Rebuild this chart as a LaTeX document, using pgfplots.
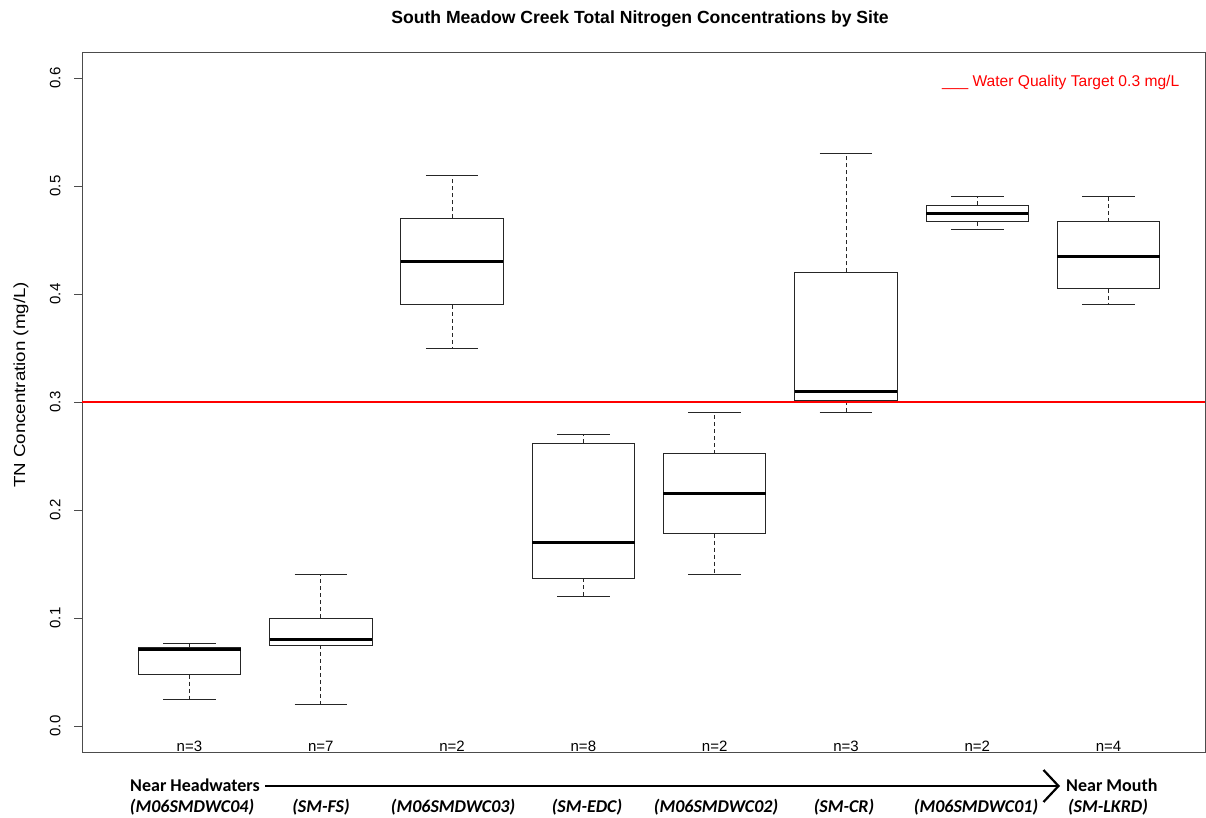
\documentclass[border=0pt]{standalone}
\usepackage{fontspec}
\setmainfont{Liberation Sans}
\newfontfamily\calibri{Carlito}
\usepackage{graphicx}
\usepackage{pgfplots}
\pgfplotsset{compat=1.18}
\usepgfplotslibrary{statistics}
\usetikzlibrary{arrows.meta}
\pgfplotsset{
  boxplot/draw/whisker/.code 2 args={%
    \draw[black!85, line width=0.9pt, dash pattern=on 4pt off 3pt] (boxplot cs:#1) -- (boxplot cs:#2);
    \draw[black!85, line width=0.9pt, solid] (boxplot whisker cs:#2,0) -- (boxplot whisker cs:#2,1);
  },
}
\begin{document}
\begin{tikzpicture}
\path[use as bounding box] (0pt,0pt) rectangle (1206pt,818pt);
\begin{axis}[
  at={(82pt,66pt)}, anchor=south west,
  scale only axis, width=1123.5pt, height=700pt,
  xmin=0.1816, xmax=8.738, ymin=-0.0241, ymax=0.6241,
  xtick=\empty,
  ytick={0,0.1,0.2,0.3,0.4,0.5,0.6},
  yticklabel style={rotate=90, anchor=south, yshift=10pt, font=\fontsize{15}{18}\selectfont,
    /pgf/number format/fixed, /pgf/number format/fixed zerofill, /pgf/number format/precision=1},
  /pgf/number format/assume math mode=true,
  tick align=outside, tick style={black!70, line width=0.9pt},
  major tick length=8pt,
  axis line style={black!70, line width=0.9pt},
  clip=false,
  /pgfplots/boxplot/draw direction=y,
  /pgfplots/boxplot/box extend=0.78,
  /pgfplots/boxplot/whisker extend=0.40,
  /pgfplots/boxplot/every median/.style={black, line width=3pt},
  /pgfplots/boxplot/every box/.style={black!85, line width=0.9pt, solid},
]
\addplot[boxplot prepared={draw position=1, lower whisker=0.025, lower quartile=0.0475, median=0.0705, upper quartile=0.073, upper whisker=0.076}] coordinates {};
\addplot[boxplot prepared={draw position=2, lower whisker=0.020, lower quartile=0.075, median=0.080, upper quartile=0.100, upper whisker=0.140}] coordinates {};
\addplot[boxplot prepared={draw position=3, lower whisker=0.350, lower quartile=0.390, median=0.430, upper quartile=0.470, upper whisker=0.510}] coordinates {};
\addplot[boxplot prepared={draw position=4, lower whisker=0.120, lower quartile=0.137, median=0.170, upper quartile=0.262, upper whisker=0.270}] coordinates {};
\addplot[boxplot prepared={draw position=5, lower whisker=0.140, lower quartile=0.178, median=0.215, upper quartile=0.252, upper whisker=0.290}] coordinates {};
\addplot[boxplot prepared={draw position=6, lower whisker=0.290, lower quartile=0.301, median=0.310, upper quartile=0.420, upper whisker=0.530}] coordinates {};
\addplot[boxplot prepared={draw position=7, lower whisker=0.460, lower quartile=0.467, median=0.475, upper quartile=0.482, upper whisker=0.490}] coordinates {};
\addplot[boxplot prepared={draw position=8, lower whisker=0.390, lower quartile=0.405, median=0.435, upper quartile=0.467, upper whisker=0.490}] coordinates {};
\addplot[red, line width=2pt] coordinates {(0.1816,0.3) (8.738,0.3)};
\foreach \i/\n in {1/3,2/7,3/2,4/8,5/2,6/3,7/2,8/4}{
  \edef\tmp{\noexpand\node[anchor=base, inner sep=0pt, font=\noexpand\fontsize{15}{17}\noexpand\selectfont] at (axis cs:\i,-0.0232) {n=\n};}
  \tmp
}
\end{axis}
\node[font=\fontsize{17.6}{20}\selectfont\bfseries, anchor=base] at (640pt,794pt) {South Meadow Creek Total Nitrogen Concentrations by Site};
\node[rotate=90, font=\fontsize{16}{20}\selectfont, anchor=base, inner sep=0pt] at (25pt,433pt) {\scalebox{1.17}[1]{TN Concentration (mg/L)}};
\node[anchor=base west, inner sep=0pt, text=red, font=\fontsize{15.6}{18}\selectfont] at (942pt,731pt) {\_\_\_ Water Quality Target 0.3 mg/L};
\node[anchor=base west, inner sep=0pt, font=\calibri\bfseries\fontsize{18}{20}\selectfont] at (130pt,26pt) {Near Headwaters};
\node[anchor=base west, inner sep=0pt, font=\calibri\bfseries\fontsize{18}{20}\selectfont] at (1066pt,26pt) {Near Mouth};
\draw[line width=2.2pt, -{Straight Barb[length=15pt, width=32pt, line width=2.2pt]}] (265pt,32pt) -- (1060pt,32pt);
\foreach \x/\t in {192/M06SMDWC04, 321/SM-FS, 453/M06SMDWC03, 587/SM-EDC, 716/M06SMDWC02, 844/SM-CR, 976/M06SMDWC01, 1108/SM-LKRD}{
  \node[anchor=base, inner sep=0pt, font=\calibri\bfseries\itshape\fontsize{18}{20}\selectfont] at (\x pt,5pt) {(\t)};
}
\end{tikzpicture}
\end{document}
